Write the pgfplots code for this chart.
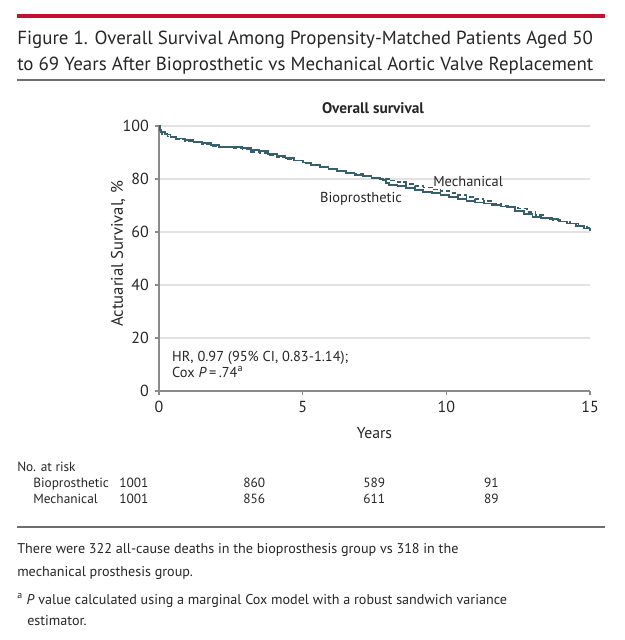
\documentclass[border=0pt]{standalone}
\usepackage{pgfplots}
\pgfplotsset{compat=1.18}
\usepackage{fontspec}
\setmainfont{PT Sans}

\definecolor{jred}{HTML}{C8102E}
\definecolor{curve}{HTML}{37606C}
\definecolor{txt}{HTML}{262626}
\definecolor{gridc}{HTML}{E2E2E2}
\definecolor{axc}{HTML}{8A8A8A}
\definecolor{rulec}{HTML}{6E6E6E}

% Kaplan-Meier estimates (years, % surviving)
\pgfplotstableread{
t s
0 100
0.03 98.5
0.08 97.6
0.2 96.8
0.4 95.9
0.6 95.3
0.9 94.6
1.2 94.1
1.5 93.5
1.8 92.7
2.1 92.2
2.5 92.0
2.9 91.6
3.2 91.0
3.5 90.6
3.8 89.5
4.1 88.6
4.4 87.8
4.7 87.0
5.0 86.2
5.3 85.4
5.6 84.5
5.9 83.8
6.2 83.0
6.5 82.2
6.8 81.5
7.1 81.0
7.4 80.5
7.7 80.0
7.8 79.6
7.9 78.4
8.0 77.8
8.3 77.3
8.6 76.6
8.9 75.8
9.2 75.2
9.5 74.6
9.8 73.9
10.1 73.2
10.4 72.4
10.7 71.6
11.0 71.1
11.3 70.8
11.6 70.3
11.9 69.6
12.1 69.3
12.4 68.0
12.7 66.8
13.0 65.7
13.3 65.2
13.6 64.8
13.9 64.0
14.2 63.2
14.5 62.3
14.8 61.3
15.0 60.5
}\bio

\pgfplotstableread{
t s
0 100
0.03 98.0
0.1 97.0
0.3 96.0
0.6 95.0
0.9 94.3
1.2 93.8
1.5 93.0
1.8 92.4
2.1 92.0
2.5 91.8
2.9 91.2
3.2 90.3
3.5 89.8
3.8 89.0
4.1 88.4
4.4 87.6
4.7 87.0
5.0 86.0
5.3 85.2
5.6 84.4
5.9 83.8
6.2 83.2
6.5 82.5
6.8 81.8
7.1 81.2
7.4 80.6
7.7 80.0
8.0 79.4
8.3 78.8
8.6 78.1
8.9 77.4
9.2 76.8
9.5 76.1
9.8 75.4
10.1 74.8
10.4 74.0
10.7 73.2
11.0 72.4
11.3 71.6
11.6 70.8
11.9 69.9
12.2 69.5
12.5 68.8
12.8 67.5
13.1 66.4
13.4 65.4
13.7 64.6
14.0 64.0
14.3 63.2
14.6 62.4
14.9 61.5
15.0 61.2
}\mech

\begin{document}
\begin{tikzpicture}
\begin{scope}[x=0.75pt,y=-0.75pt]
\path[use as bounding box] (0,0) rectangle (625,640);
\fill[jred] (17,14.3) rectangle (605,17.8);
\node[anchor=base west,inner sep=0,text=txt,font=\fontsize{14.2}{16}\selectfont] at (17,44) {Figure 1. Overall Survival Among Propensity-Matched Patients Aged 50};
\node[anchor=base west,inner sep=0,text=txt,font=\fontsize{14.2}{16}\selectfont] at (17,70) {to 69 Years After Bioprosthetic vs Mechanical Aortic Valve Replacement};
\draw[rulec,line width=1pt] (17,80) -- (605,80);
\node[anchor=center,inner sep=0,text=txt,font=\bfseries\fontsize{11.5}{13}\selectfont] at (373,108) {Overall survival};
% number at risk
\begin{scope}[every node/.style={anchor=base west,inner sep=0,text=txt,font=\fontsize{10}{11}\selectfont}]
\node at (17,471) {No. at risk};
\node at (33,487) {Bioprosthetic};
\node at (33,503) {Mechanical};
\node at (119,487) {1001};
\node at (119,503) {1001};
\node at (243,487) {860};
\node at (243,503) {856};
\node at (363,487) {589};
\node at (363,503) {611};
\node[anchor=base east] at (499,487) {91};
\node[anchor=base east] at (499,503) {89};
\end{scope}
\draw[rulec,line width=1pt] (17,527) -- (605,527);
\begin{scope}[every node/.style={anchor=base west,inner sep=0,text=txt,font=\fontsize{10.6}{12}\selectfont}]
\node at (17,553) {There were 322 all-cause deaths in the bioprosthesis group vs 318 in the};
\node at (17,576) {mechanical prosthesis group.};
\node at (17,604) {\textsuperscript{a} \textit{P} value calculated using a marginal Cox model with a robust sandwich variance};
\node at (27,625) {estimator.};
\end{scope}
\end{scope}
\begin{axis}[
  at={(119.25pt,-293.25pt)}, anchor=south west,
  scale only axis, width=323.25pt, height=198.75pt,
  xmin=0, xmax=15, ymin=0, ymax=100,
  axis x line*=bottom, axis y line*=left,
  axis line style={axc, line width=0.8pt},
  xtick={0,5,10,15}, ytick={0,20,40,60,80,100},
  xticklabels={0,5,10,15}, yticklabels={0,20,40,60,80,100},
  tick align=outside, major tick length=3pt,
  tick style={axc, line width=0.8pt},
  ymajorgrids, grid style={gridc, line width=0.8pt},
  xticklabel style={text=txt, font=\fontsize{12}{14}\selectfont, inner sep=0pt, yshift=-4.5pt},
  yticklabel style={text=txt, font=\fontsize{12}{14}\selectfont, inner sep=0pt, xshift=-4.5pt},
  xlabel={Years}, ylabel={Actuarial Survival, \%},
  xlabel style={at={(axis description cs:0.5,-0.158)}, anchor=center, text=txt, font=\fontsize{11.8}{13}\selectfont},
  ylabel style={at={(axis description cs:-0.095,0.517)}, anchor=center, text=txt, font=\fontsize{12.5}{14}\selectfont},
  clip=false,
]
\addplot[const plot, curve, line width=1.3pt] table[x=t, y=s] {\bio};
\addplot[const plot, curve, line width=1.2pt, dash pattern=on 3.5pt off 2pt] table[x=t, y=s] {\mech};
\node[text=txt, font=\fontsize{10.8}{12}\selectfont, inner sep=0] at (axis cs:10.76,79.2) {Mechanical};
\node[text=txt, font=\fontsize{10.8}{12}\selectfont, inner sep=0] at (axis cs:7.03,72.5) {Bioprosthetic};
\node[text=txt, font=\fontsize{10.8}{12}\selectfont, inner sep=0, anchor=base west] at (axis cs:0.45,11.3) {HR, 0.97 (95\% CI, 0.83-1.14);};
\node[text=txt, font=\fontsize{10.8}{12}\selectfont, inner sep=0, anchor=base west] at (axis cs:0.45,5.2) {Cox \textit{P}\,=\,.74\textsuperscript{a}};
\end{axis}
\end{tikzpicture}
\end{document}
